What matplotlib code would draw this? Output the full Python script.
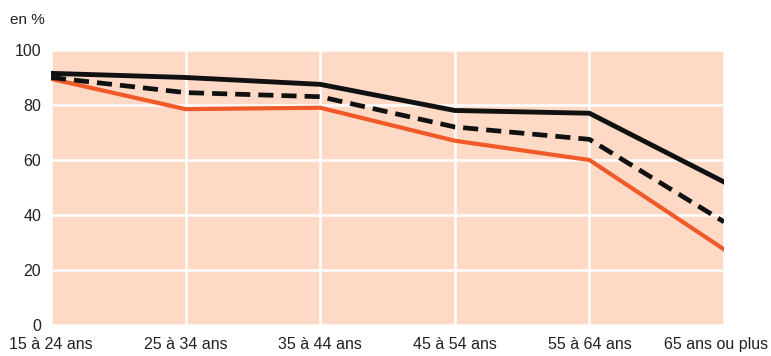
import matplotlib.pyplot as plt
import matplotlib.transforms as mtransforms

plt.rcParams['font.family'] = ['Liberation Sans', 'DejaVu Sans']

# tranches d'age et taux (en %)
ages = ['15 à 24 ans', '25 à 34 ans', '35 à 44 ans', '45 à 54 ans',
        '55 à 64 ans', '65 ans ou plus']
serie_noire = [91.5, 90, 87.5, 78, 77, 52]
serie_tirets = [90, 84.5, 83, 72, 67.5, 37.5]
serie_orange = [89.5, 78.5, 79, 67, 60, 27.5]
y_ticks = [0, 20, 40, 60, 80, 100]

fond = '#fdd9c6'
orange = '#ef5a28'

fig = plt.figure(figsize=(7.71, 3.56), dpi=100)
ax = fig.add_axes([0.0661, 0.0871, 0.873, 0.7725])
ax.set_facecolor(fond)

x = list(range(len(ages)))
ax.plot(x, serie_orange, color=orange, lw=3.0, solid_joinstyle='miter', zorder=3)
ax.plot(x, serie_tirets, color='#111111', lw=3.4, dashes=(3.2, 1.7), zorder=4)
ax.plot(x, serie_noire, color='#111111', lw=3.5, solid_joinstyle='miter', zorder=5)

ax.set_xlim(0, len(ages) - 1)
ax.set_ylim(0, 100)
ax.set_yticks(y_ticks)
ax.set_xticks(x)
ax.set_xticklabels(ages)

ax.grid(True, color='white', lw=1.8)
ax.set_axisbelow(True)
for s in ax.spines.values():
    s.set_visible(False)
ax.tick_params(length=0, labelsize=11.5, colors='#222222')
ax.tick_params(axis='y', pad=7)
ax.tick_params(axis='x', pad=9)

# la derniere etiquette est decalee pour rester dans le cadre
lab = ax.get_xticklabels()[-1]
lab.set_transform(lab.get_transform() +
                  mtransforms.ScaledTranslation(-0.08, 0, fig.dpi_scale_trans))

fig.text(0.013, 0.945, 'en %', fontsize=11, color='#222222', va='center')

fig.savefig('out.png', dpi=100)
